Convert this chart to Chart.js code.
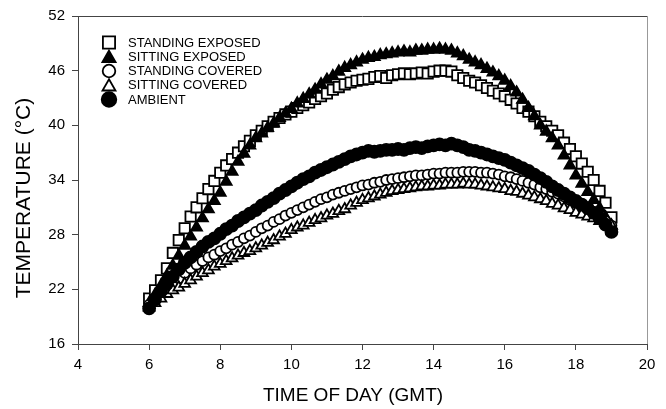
<!DOCTYPE html>
<html>
<head>
<meta charset="utf-8">
<script src="https://cdn.jsdelivr.net/npm/chart.js@4/dist/chart.umd.min.js"></script>
<style>
  body { margin: 0; background: #fff; }
</style>
</head>
<body>
<canvas id="temps" width="666" height="409"></canvas>
<script>
// readings every 10 minutes from 06:00 to 19:00 GMT
const startHour = 6
const stepMinutes = 10

const standingExposed = [
    21.0, 21.9, 23.0, 24.3, 26.0, 27.4,
    28.7, 30.0, 31.0, 32.0, 33.0, 33.9,
    34.8, 35.6, 36.3, 37.0, 37.7, 38.3,
    38.9, 39.4, 39.9, 40.4, 40.8, 41.2,
    41.5, 41.9, 42.2, 42.5, 42.9, 43.2,
    43.5, 43.9, 44.2, 44.5, 44.7, 44.9,
    45.0, 45.1, 45.3, 45.4, 45.2, 45.5,
    45.6, 45.7, 45.6, 45.7, 45.8, 45.7,
    45.9, 46.0, 46.0, 45.9, 45.5, 45.2,
    44.9, 44.7, 44.4, 44.1, 43.8, 43.5,
    43.2, 42.8, 42.4, 41.9, 41.5, 41.0,
    40.4, 39.9, 39.4, 38.9, 38.1, 37.4,
    36.6, 35.8, 34.9, 34.0, 32.8, 31.5,
    29.9
]
const sittingExposed = [
    20.5, 21.4, 22.4, 23.5, 24.6, 25.7,
    26.8, 27.8, 28.8, 29.8, 30.8, 31.7,
    32.6, 33.8, 34.9, 36.0, 36.9, 37.8,
    38.6, 39.1, 39.7, 40.2, 40.8, 41.3,
    41.8, 42.4, 42.9, 43.4, 43.9, 44.5,
    45.0, 45.4, 45.9, 46.3, 46.6, 46.9,
    47.2, 47.4, 47.5, 47.7, 47.8, 47.9,
    48.0, 48.1, 48.0, 48.2, 48.2, 48.3,
    48.3, 48.4, 48.3, 48.2, 47.9, 47.6,
    47.2, 46.9, 46.6, 46.2, 45.8, 45.4,
    44.9, 44.3, 43.6, 42.8, 41.9, 41.0,
    40.0, 39.3, 38.6, 37.8, 36.7, 35.6,
    34.5, 33.6, 32.7, 31.8, 30.9, 29.9,
    29.0
]
const standingCovered = [
    20.3, 20.9, 21.5, 22.0, 22.6, 23.2,
    23.8, 24.3, 24.7, 25.1, 25.5, 25.8,
    26.2, 26.5, 26.9, 27.2, 27.6, 27.9,
    28.3, 28.7, 29.0, 29.4, 29.7, 30.1,
    30.4, 30.7, 31.0, 31.3, 31.6, 31.9,
    32.1, 32.4, 32.6, 32.8, 33.0, 33.2,
    33.4, 33.5, 33.7, 33.8, 34.0, 34.1,
    34.2, 34.3, 34.4, 34.5, 34.5, 34.6,
    34.7, 34.7, 34.8, 34.8, 34.8, 34.9,
    34.9, 34.9, 34.8, 34.8, 34.7, 34.6,
    34.4, 34.3, 34.1, 33.9, 33.7, 33.5,
    33.2, 33.0, 32.7, 32.5, 32.2, 31.8,
    31.5, 31.2, 30.9, 30.5, 30.0, 29.5,
    29.0
]
const sittingCovered = [
    20.0, 20.5, 21.0, 21.5, 21.9, 22.2,
    22.6, 23.0, 23.4, 23.8, 24.1, 24.5,
    24.8, 25.1, 25.4, 25.7, 26.0, 26.2,
    26.5, 26.8, 27.1, 27.4, 27.8, 28.1,
    28.5, 28.8, 29.0, 29.3, 29.6, 29.8,
    30.1, 30.3, 30.6, 30.8, 31.2, 31.5,
    31.8, 32.0, 32.2, 32.4, 32.6, 32.8,
    32.9, 33.0, 33.1, 33.2, 33.3, 33.3,
    33.4, 33.4, 33.5, 33.5, 33.5, 33.6,
    33.5, 33.5, 33.4, 33.3, 33.2, 33.1,
    33.0, 32.8, 32.7, 32.5, 32.3, 32.1,
    31.9, 31.7, 31.4, 31.2, 30.9, 30.7,
    30.4, 30.2, 30.0, 29.8, 29.5, 29.3,
    29.0
]
const ambient = [
    19.9, 20.9, 21.8, 22.6, 23.4, 24.2,
    24.9, 25.5, 26.1, 26.7, 27.2, 27.6,
    28.1, 28.6, 29.0, 29.5, 29.9, 30.3,
    30.7, 31.2, 31.6, 32.0, 32.5, 32.9,
    33.3, 33.7, 34.1, 34.4, 34.8, 35.1,
    35.4, 35.7, 36.0, 36.3, 36.6, 36.8,
    37.0, 37.2, 37.1, 37.2, 37.3, 37.3,
    37.4, 37.3, 37.5, 37.6, 37.5, 37.7,
    37.8, 37.9, 37.8, 38.0, 37.8, 37.6,
    37.3, 37.2, 37.0, 36.8, 36.6, 36.4,
    36.2, 35.9, 35.6, 35.3, 35.0, 34.6,
    34.2, 33.8, 33.3, 32.9, 32.5, 32.1,
    31.7, 31.3, 30.9, 30.4, 29.8, 29.1,
    28.3
]

const seriesLabels = ["STANDING EXPOSED", "SITTING EXPOSED", "STANDING COVERED", "SITTING COVERED", "AMBIENT"]

const xTitle = "TIME OF DAY (GMT)"
const yTitle = "TEMPERATURE (°C)"

const times = standingExposed.map((_, i) => startHour + i * stepMinutes / 60)

const FONT = "'Liberation Sans', Arial, sans-serif"
const AXIS = "#444"

function toPoints(values) {
    return values.map((v, i) => ({ x: times[i], y: v }))
}

function makeDataset(label, values, style, filled, radius, order) {
    return {
        label: label,
        data: toPoints(values),
        showLine: false,
        pointStyle: style,
        pointRadius: radius,
        pointHoverRadius: radius,
        pointBackgroundColor: filled ? "#000" : "#fff",
        pointBorderColor: "#000",
        pointBorderWidth: 1.8,
        order: order,
        legendRadius: radius + 1.3
    }
}

// legend inside the plot, top left
const insideLegend = {
    id: "insideLegend",
    afterDraw(chart) {
        const ctx = chart.ctx
        ctx.save()
        ctx.font = "13px " + FONT
        ctx.textBaseline = "middle"
        ctx.textAlign = "left"
        chart.data.datasets.forEach((ds, i) => {
            const y = 42.5 + i * 14.25
            ctx.fillStyle = ds.pointBackgroundColor
            ctx.strokeStyle = ds.pointBorderColor
            ctx.lineWidth = ds.pointBorderWidth
            Chart.helpers.drawPoint(ctx, {
                pointStyle: ds.pointStyle,
                radius: ds.legendRadius,
                rotation: 0,
                borderWidth: ds.pointBorderWidth
            }, 109, y + (ds.pointStyle === "triangle" ? 1.5 : 0))
            ctx.fillStyle = "#000"
            ctx.fillText(ds.label, 128, y + 0.5)
        })
        ctx.restore()
    }
}

// top and right frame plus axis titles
const frameAndTitles = {
    id: "frameAndTitles",
    afterDraw(chart) {
        const ctx = chart.ctx
        const a = chart.chartArea
        ctx.save()
        ctx.lineWidth = 1
        ctx.strokeStyle = AXIS
        ctx.beginPath()
        ctx.moveTo(a.left, a.top + 0.5)
        ctx.lineTo(a.right, a.top + 0.5)
        ctx.stroke()
        ctx.strokeStyle = "#999"
        ctx.beginPath()
        ctx.moveTo(a.right + 0.5, a.top)
        ctx.lineTo(a.right + 0.5, a.bottom)
        ctx.stroke()

        ctx.fillStyle = "#000"
        ctx.textAlign = "center"
        ctx.textBaseline = "middle"
        ctx.font = "19px " + FONT
        ctx.fillText(xTitle, 353, 396)
        ctx.translate(24, 198)
        ctx.rotate(-Math.PI / 2)
        ctx.font = "21px " + FONT
        ctx.fillText(yTitle, 0, 0)
        ctx.restore()
    }
}

new Chart(document.querySelector("#temps"), {
    type: "scatter",
    data: {
        datasets: [
            makeDataset(seriesLabels[0], standingExposed, "rect", false, 7.3, 5),
            makeDataset(seriesLabels[1], sittingExposed, "triangle", true, 6.3, 4),
            makeDataset(seriesLabels[2], standingCovered, "circle", false, 5, 3),
            makeDataset(seriesLabels[3], sittingCovered, "triangle", false, 6.2, 2),
            makeDataset(seriesLabels[4], ambient, "circle", true, 6, 1)
        ]
    },
    options: {
        responsive: false,
        animation: false,
        layout: { padding: { left: 0, top: 15, right: 19, bottom: 0 } },
        plugins: {
            legend: { display: false },
            tooltip: { enabled: false }
        },
        scales: {
            x: {
                type: "linear",
                min: 4,
                max: 20,
                afterFit(scale) { scale.height = 65 },
                ticks: {
                    stepSize: 2,
                    padding: 6,
                    color: "#000",
                    font: { family: FONT, size: 15 }
                },
                grid: { drawOnChartArea: false, tickLength: 6, color: AXIS },
                border: { color: AXIS }
            },
            y: {
                min: 16,
                max: 52,
                afterFit(scale) { scale.width = 78 },
                ticks: {
                    stepSize: 6,
                    padding: 7,
                    color: "#000",
                    font: { family: FONT, size: 15 }
                },
                grid: { drawOnChartArea: false, tickLength: 6, color: AXIS },
                border: { color: AXIS }
            }
        }
    },
    plugins: [insideLegend, frameAndTitles]
})
</script>
</body>
</html>
